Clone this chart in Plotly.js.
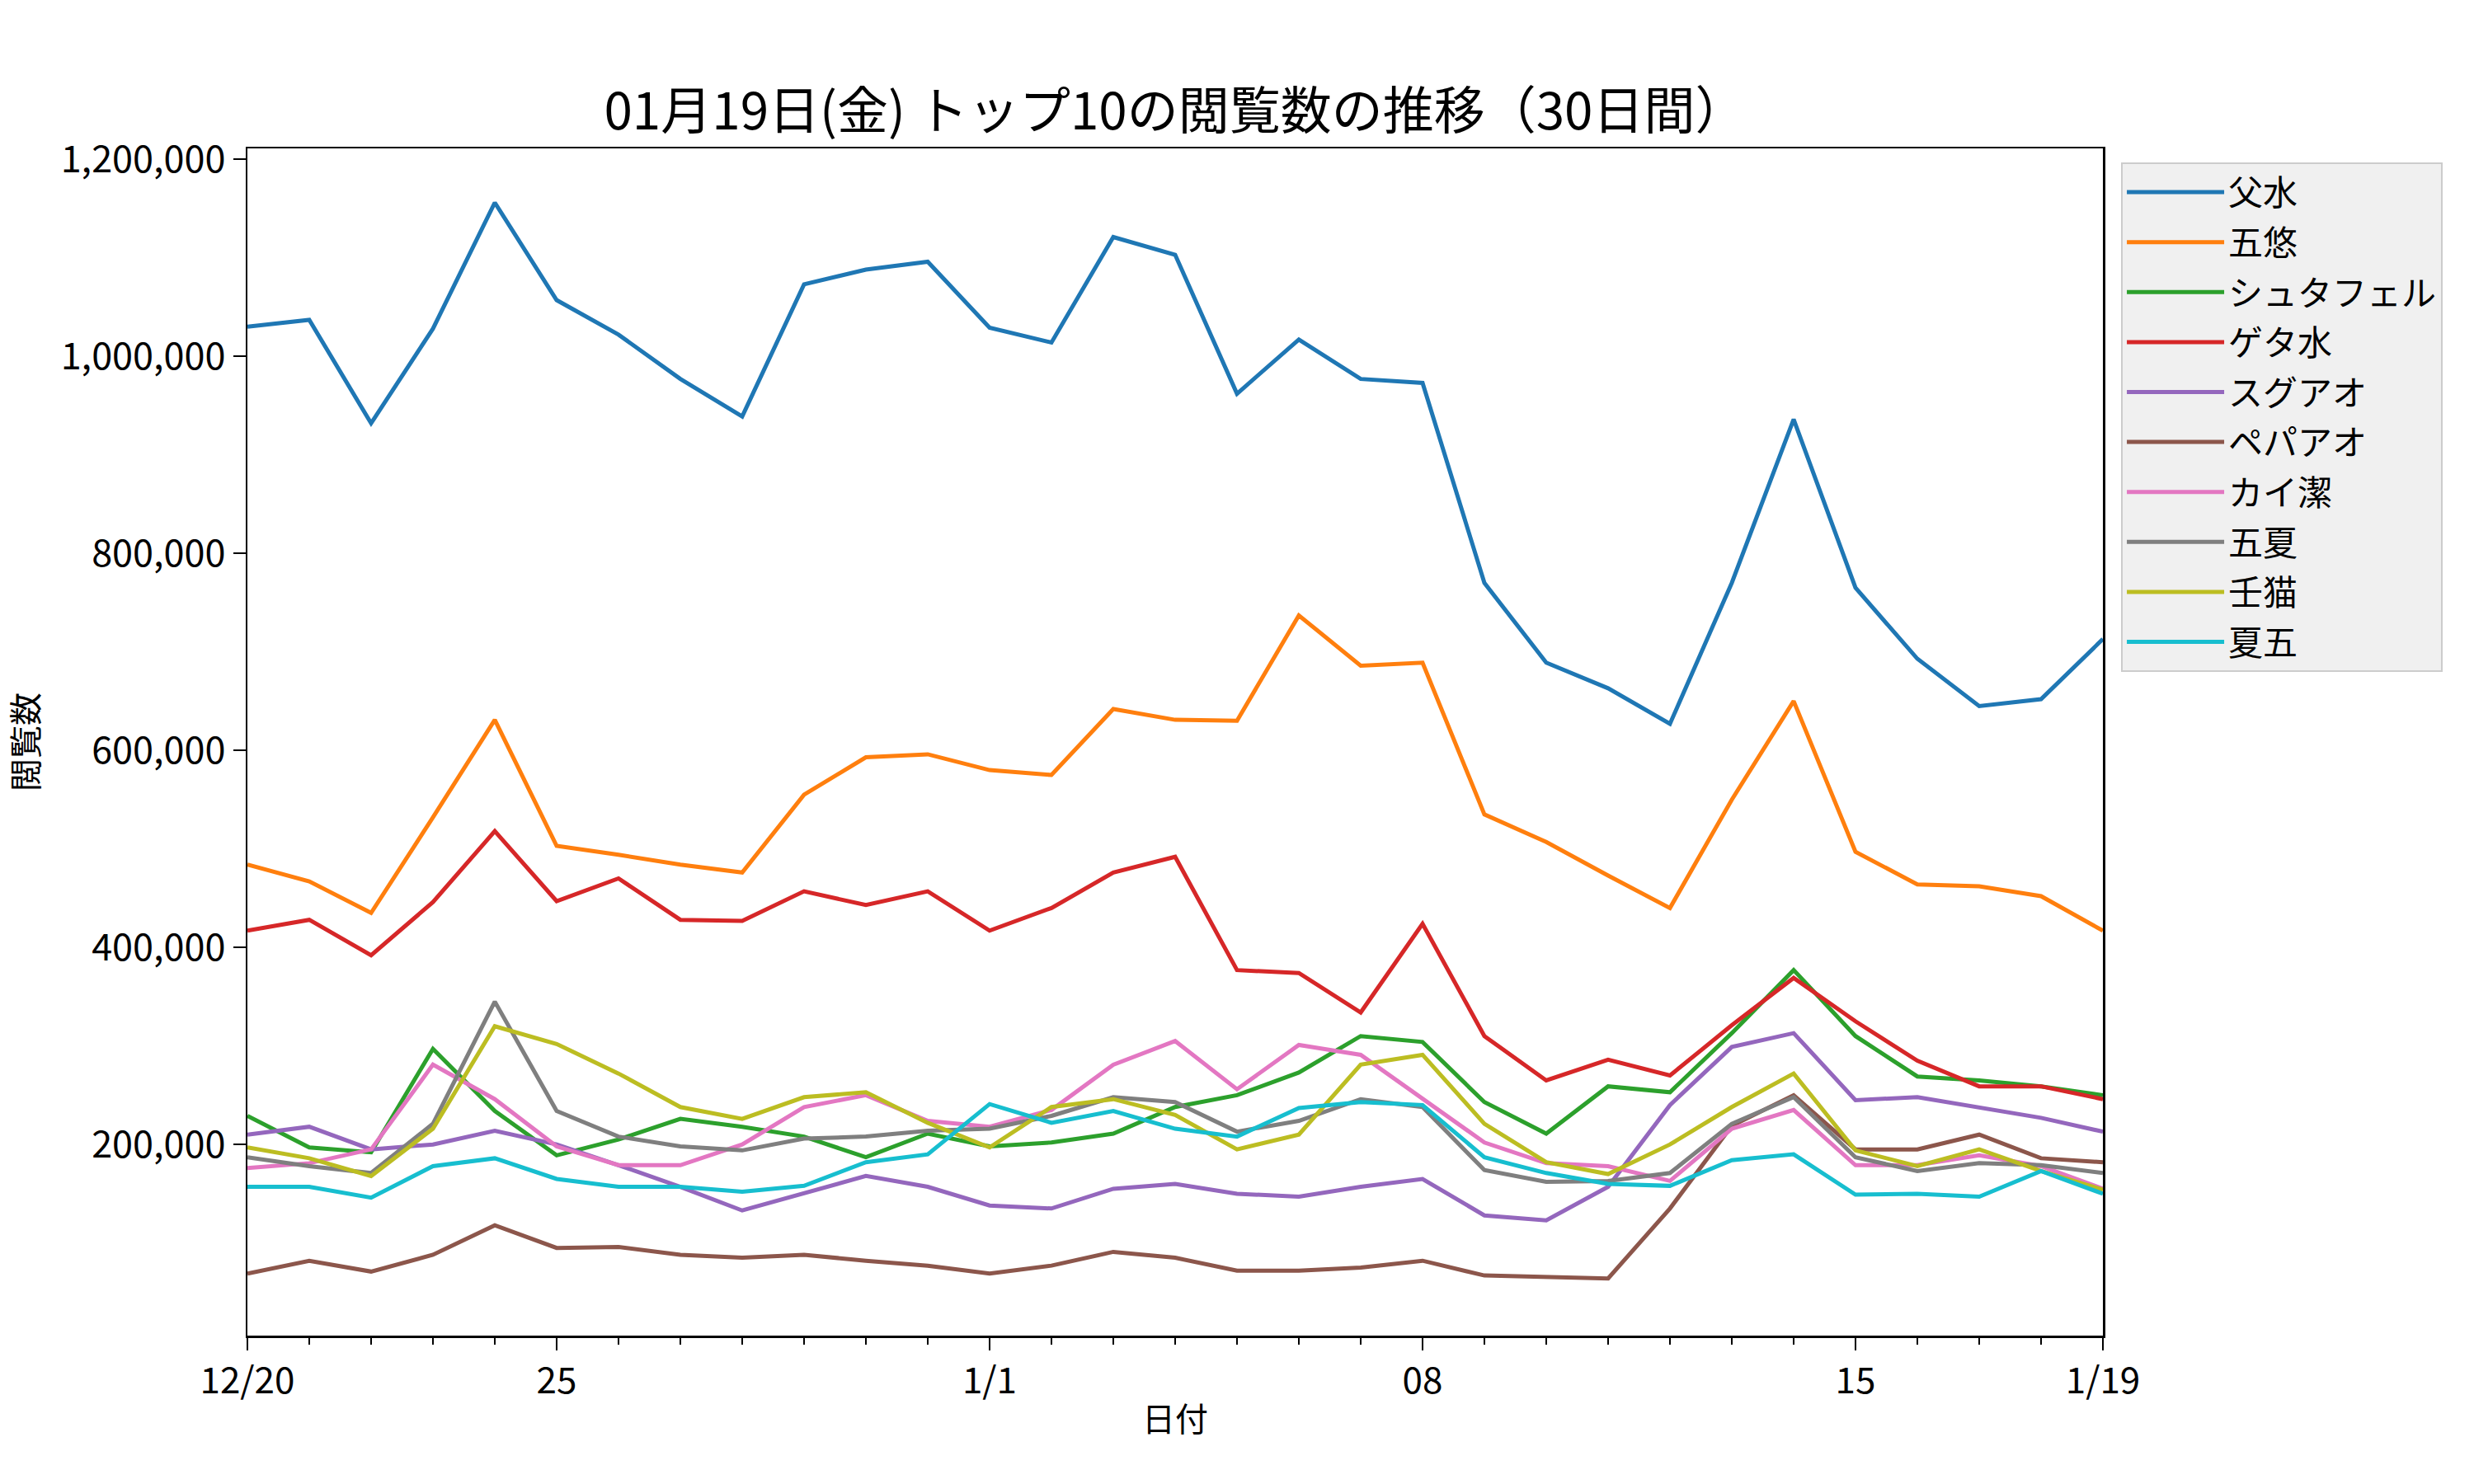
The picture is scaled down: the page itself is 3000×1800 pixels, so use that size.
<!DOCTYPE html>
<html>
<head>
<meta charset="utf-8">
<script src="https://cdn.plot.ly/plotly-3.0.1.min.js"></script>
<style>
  html, body { margin: 0; padding: 0; background: #fff; }
  #chart { width: 3000px; height: 1800px; }
</style>
</head>
<body>
<div id="chart"></div>
<script>
// 30-day page views of the top 10 (12/20 .. 1/19)

const dayIndex = Array.from({length: 31}, (_, i) => i);
const tickIdx  = [0, 5, 12, 19, 26, 30];
const tickText = ['12/20', '25', '1/1', '08', '15', '1/19'];

const names = ['父水', '五悠', 'シュタフェル', 'ゲタ水', 'スグアオ', 'ペパアオ', 'カイ潔', '五夏', '壬猫', '夏五'];
const colors = ['#1f77b4', '#ff7f0e', '#2ca02c', '#d62728', '#9467bd', '#8c564b', '#e377c2', '#7f7f7f', '#bcbd22', '#17becf'];

const fusui = [1030000, 1037000, 932000, 1028000, 1156000, 1057000, 1022000, 977000, 939000, 1073000,
  1088000, 1096000, 1029000, 1014000, 1121000, 1103000, 962000, 1017000, 977000, 973000,
  770000, 689000, 663000, 627000, 770000, 936000, 765000, 693000, 645000, 652000, 713000];
const goyu = [484000, 467000, 435000, 532000, 631000, 503000, 494000, 484000, 476000, 555000,
  593000, 596000, 580000, 575000, 642000, 631000, 630000, 737000, 686000, 689000,
  535000, 507000, 473000, 440000, 550000, 650000, 497000, 464000, 462000, 452000, 417000];
const shutafel = [229000, 197000, 192000, 297000, 234000, 189000, 205000, 226000, 218000, 208000,
  187000, 211000, 198000, 202000, 211000, 238000, 250000, 273000, 310000, 304000,
  243000, 211000, 259000, 253000, 313000, 377000, 310000, 269000, 265000, 259000, 250000];
const getasui = [417000, 428000, 392000, 446000, 518000, 447000, 470000, 428000, 427000, 457000,
  443000, 457000, 417000, 440000, 476000, 492000, 377000, 374000, 334000, 424000,
  310000, 265000, 286000, 270000, 321000, 369000, 325000, 285000, 259000, 259000, 246000];
const suguao = [210000, 218000, 195000, 200000, 214000, 200000, 179000, 157000, 133000, 150000,
  168000, 157000, 138000, 135000, 155000, 160000, 150000, 147000, 157000, 165000,
  128000, 123000, 157000, 240000, 299000, 313000, 245000, 248000, 238000, 227000, 213000];
const pepaao = [69000, 82000, 71000, 88000, 118000, 95000, 96000, 88000, 85000, 88000,
  82000, 77000, 69000, 77000, 91000, 85000, 72000, 72000, 75000, 82000,
  67000, 66000, 64000, 135000, 219000, 250000, 195000, 195000, 210000, 186000, 182000];
const kaiketsu = [176000, 181000, 195000, 281000, 246000, 198000, 179000, 179000, 200000, 238000,
  250000, 224000, 218000, 235000, 281000, 305000, 256000, 301000, 291000, 246000,
  202000, 181000, 178000, 163000, 216000, 235000, 179000, 179000, 189000, 178000, 155000];
const gogetsu = [187000, 178000, 171000, 221000, 345000, 234000, 208000, 198000, 194000, 206000,
  208000, 214000, 216000, 229000, 248000, 243000, 213000, 224000, 246000, 238000,
  174000, 162000, 163000, 171000, 221000, 248000, 187000, 173000, 181000, 179000, 171000];
const jinneko = [197000, 186000, 168000, 216000, 320000, 302000, 272000, 238000, 226000, 248000,
  253000, 222000, 197000, 238000, 246000, 230000, 195000, 210000, 281000, 291000,
  221000, 182000, 170000, 200000, 238000, 272000, 194000, 178000, 195000, 173000, 154000];
const getsugo = [157000, 157000, 146000, 178000, 186000, 165000, 157000, 157000, 152000, 158000,
  182000, 190000, 241000, 222000, 234000, 216000, 208000, 237000, 243000, 240000,
  187000, 171000, 160000, 158000, 184000, 190000, 149000, 150000, 147000, 173000, 150000];

const seriesVals = [fusui, goyu, shutafel, getasui, suguao, pepaao, kaiketsu, gogetsu, jinneko, getsugo];

const FONT = '"Noto Sans CJK JP", "Noto Sans", sans-serif';

// each trace in its own legend group so tracegroupgap spaces the rows
const traces = seriesVals.map((vals, i) => ({
  x: dayIndex,
  y: vals,
  type: 'scatter',
  mode: 'lines',
  name: names[i],
  legendgroup: 'g' + i,
  line: {color: colors[i], width: 5}
}));

const layout = {
  width: 3000,
  height: 1800,
  paper_bgcolor: '#ffffff',
  plot_bgcolor: '#ffffff',
  margin: {l: 300, r: 450, t: 180, b: 180},
  font: {family: FONT, size: 40, color: '#000'},
  title: {
    text: '01月19日(金) トップ10の閲覧数の推移（30日間）',
    font: {family: FONT, size: 62, color: '#000'},
    x: 0.475, xanchor: 'center',
    y: 0.925, yanchor: 'middle'
  },
  xaxis: {
    range: [0, 30],
    tickmode: 'array',
    tickvals: tickIdx,
    ticktext: tickText,
    ticks: 'outside', ticklen: 15, tickwidth: 2, tickcolor: '#000',
    minor: {dtick: 1, ticks: 'outside', ticklen: 8, tickwidth: 1.5, tickcolor: '#000', showgrid: false},
    showgrid: false, zeroline: false,
    showline: true, linecolor: '#000', linewidth: 2.5, mirror: true,
    tickfont: {family: FONT, size: 44, color: '#000'},
    title: {text: '日付', font: {family: FONT, size: 40, color: '#000'}, standoff: 6}
  },
  yaxis: {
    range: [6000, 1211000],
    tickvals: [200000, 400000, 600000, 800000, 1000000, 1200000],
    tickformat: ',d',
    ticks: 'outside', ticklen: 15, tickwidth: 2, tickcolor: '#000',
    showgrid: false, zeroline: false,
    showline: true, linecolor: '#000', linewidth: 2.5, mirror: true,
    tickfont: {family: FONT, size: 45, color: '#000'},
    title: {text: '閲覧数', font: {family: FONT, size: 40, color: '#000'}, standoff: 16}
  },
  showlegend: true,
  legend: {
    x: 1.0098, xanchor: 'left',
    y: 0.988, yanchor: 'top',
    bgcolor: '#f0f0f0',
    bordercolor: '#cccccc',
    borderwidth: 2,
    font: {family: FONT, size: 42, color: '#000'},
    itemwidth: 118,
    tracegroupgap: 3
  }
};

Plotly.newPlot('chart', traces, layout, {staticPlot: true});
</script>
</body>
</html>
